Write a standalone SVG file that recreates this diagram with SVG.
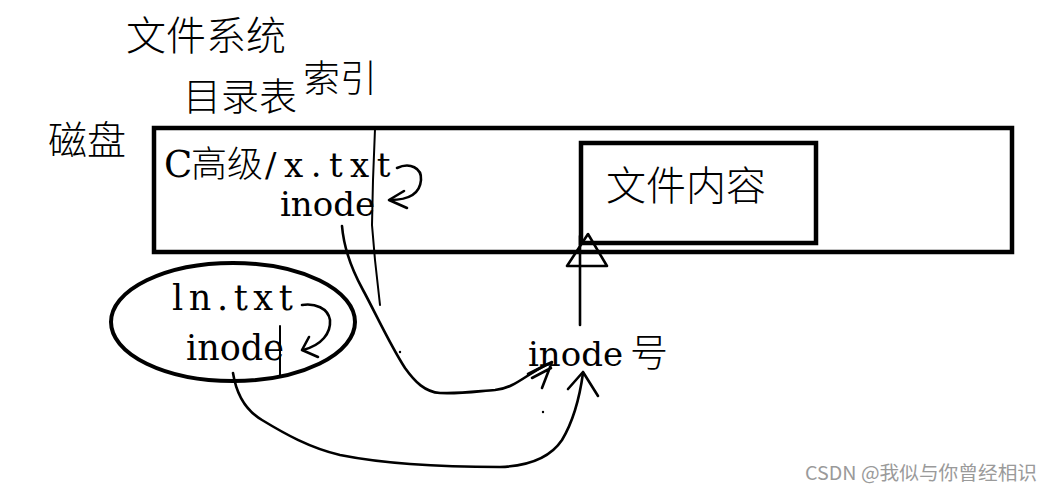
<svg xmlns="http://www.w3.org/2000/svg" width="1051" height="491" viewBox="0 0 1051 491">
<style>
.box{fill:none;stroke:#000;stroke-width:4.5}
.cjk{font-family:"Noto Sans CJK SC","Noto Sans",sans-serif;font-weight:300;fill:#000}
.ser{font-family:"DejaVu Serif","Noto Sans CJK SC",serif;fill:#000}
.pen{fill:none;stroke:#000;stroke-width:2.6;stroke-linecap:round;stroke-linejoin:round}
.thin{fill:none;stroke:#000;stroke-width:2;stroke-linecap:round}
</style>
<rect width="1051" height="491" fill="#fff"/>
<g id="title-fs"><text class="cjk" x="126" y="50" font-size="40">文件系统</text></g>
<g id="title-dir"><text class="cjk" x="183" y="110" font-size="38">目录表</text></g>
<g id="title-index"><text class="cjk" x="303" y="92" font-size="37">索引</text></g>
<g id="disk">
<text class="cjk" x="48" y="154" font-size="39">磁盘</text>
<rect class="box" x="154" y="128" width="858" height="124"/>
</g>
<g id="dir-entry">
<text class="ser" y="177"><tspan x="164" font-size="37">C</tspan><tspan x="191" font-size="36" font-family="'Noto Sans CJK SC',sans-serif" font-weight="300">高级</tspan><tspan x="265" font-size="34" letter-spacing="7.5">/x.txt</tspan></text>
<text class="ser" x="280" y="216" font-size="34">inode</text>
</g>
<g id="content">
<rect class="box" x="581" y="143" width="235" height="100"/>
<text class="cjk" x="606" y="200" font-size="40">文件内容</text>
</g>
<g id="link">
<ellipse cx="233" cy="322" rx="122" ry="59" fill="none" stroke="#000" stroke-width="4"/>
<text class="ser" x="172" y="310" font-size="35" letter-spacing="5.6">ln.txt</text>
<text class="ser" x="186" y="360" font-size="35">inode</text>
</g>
<g id="inode-num"><text class="ser" y="366"><tspan x="528" font-size="34">inode</tspan><tspan x="630" font-size="38" font-family="'Noto Sans CJK SC',sans-serif" font-weight="300">号</tspan></text></g>
<g id="connectors">
<path class="thin" d="M375,129 L373,180 L372,225 L375,260 L380,305"/>
<path class="thin" d="M280,326 L280,377"/>
<path class="pen" d="M397,168 C410,162 422,168 421,180 C420,193 410,200 390,200"/>
<path class="pen" d="M404,191 L389,200 L407,208"/>
<path class="pen" d="M302,305 C315,303 328,308 330,320 C331,333 322,345 303,350"/>
<path class="pen" d="M309,337 L302,350 L318,357"/>
<path class="pen" d="M342,226 C344,250 352,270 363,290 C375,312 390,345 405,368 C415,382 425,392 440,393 C460,394 480,391 495,390 C515,388 525,375 548,364"/>
<path class="pen" d="M528,374 L552,362 L542,388 M532,378 L551,368"/>
<path class="pen" d="M233,373 C236,392 245,410 262,420 C285,434 310,448 340,455 C380,463 430,467 500,467 C530,466 550,458 562,440 C574,420 580,395 583,373"/>
<path class="pen" d="M568,389 L583,372 L598,396"/>
<path class="pen" d="M580,325 L580,236"/>
<path class="pen" stroke-width="3" d="M567,266 L607,266 L588,234 Z"/>
<circle cx="400" cy="352" r="1.2" fill="#000"/>
<circle cx="543" cy="412" r="1.2" fill="#000"/>
</g>
<g id="watermark"><text x="805" y="480" font-family="'Noto Sans CJK SC','Liberation Sans',sans-serif" font-size="19" fill="#9a9a9a" textLength="232" lengthAdjust="spacingAndGlyphs">CSDN @我似与你曾经相识</text></g>
</svg>
